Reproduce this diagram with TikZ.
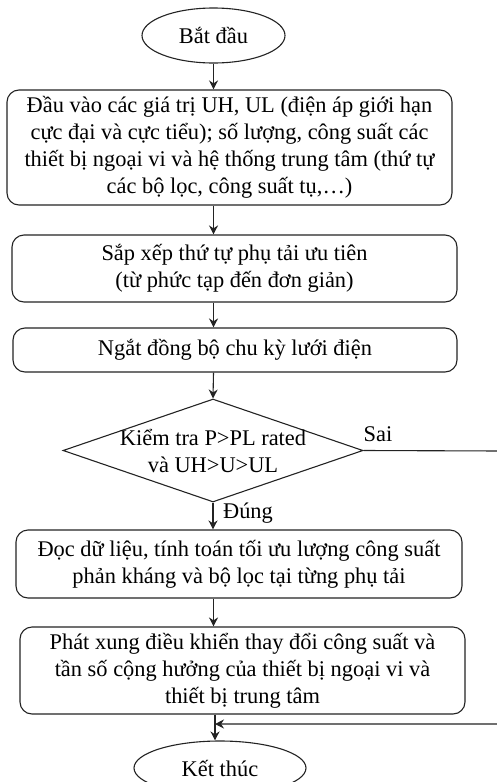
\documentclass[tikz,border=0pt]{standalone}
\usepackage{fontspec}
\setmainfont{Liberation Serif}
\usepackage{tikz}
\usetikzlibrary{shapes, arrows.meta, positioning}
\definecolor{flowline}{RGB}{35, 35, 35}

\begin{document}
\begin{tikzpicture}[x=1pt, y=-1pt,
  font=\fontsize{22.4}{27}\selectfont,
  procbox/.style={draw=flowline, line width=1.1pt, rounded corners=12pt, align=center, inner sep=0pt},
  terminal/.style={draw=flowline, line width=1.1pt, ellipse, inner sep=0pt},
  decision/.style={draw=flowline, line width=1.1pt, diamond, aspect=2.91, align=center, inner xsep=-16pt, inner ysep=0pt, minimum width=300pt, minimum height=103pt},
  flow/.style={draw=flowline, line width=1.1pt, -{Stealth[length=9pt, width=9pt]}}]
  \useasboundingbox (0, 0) rectangle (497, 782);

  \node[terminal, minimum width=143pt, minimum height=55pt] (start) at (213.5, 35.5) {Bắt đầu};

  \node[procbox, minimum width=445pt, minimum height=115pt] (input) at (229.5, 147.5) {
    Đầu vào các giá trị UH, UL (điện áp giới hạn\\
    cực đại và cực tiểu); số lượng, công suất các\\
    thiết bị ngoại vi và hệ thống trung tâm (thứ tự\\
    các bộ lọc, công suất tụ,…)
  };

  \node[procbox, minimum width=445pt, minimum height=67pt] (priority) at (234.5, 268.5) {
    Sắp xếp thứ tự phụ tải ưu tiên\\
    (từ phức tạp đến đơn giản)
  };

  \node[procbox, minimum width=444pt, minimum height=44pt] (sync) at (235, 350) {Ngắt đồng bộ chu kỳ lưới điện};

  \node[decision] (check) at (213, 450.5) {
    Kiểm tra P>PL rated\\
    và UH>U>UL
  };

  \node[procbox, minimum width=446pt, minimum height=68pt] (optimize) at (239, 564) {
    Đọc dữ liệu, tính toán tối ưu lượng công suất\\
    phản kháng và bộ lọc tại từng phụ tải
  };

  \node[procbox, minimum width=445pt, minimum height=87pt] (pulse) at (242.5, 670.5) {
    Phát xung điều khiển thay đổi công suất và\\
    tần số cộng hưởng của thiết bị ngoại vi và\\
    thiết bị trung tâm
  };

  \node[terminal, minimum width=172pt, minimum height=54pt] (finish) at (220, 768) {Kết thúc};

  \node (sai) at (378, 434) {Sai};
  \node (dung) at (248, 513) {Đúng};

  \coordinate (sairight) at (502, 451);
  \coordinate (join) at (215, 724);

  \draw[flow] (start.south -| start) -- (start |- input.north);
  \draw[flow] (input.south -| start) -- (start |- priority.north);
  \draw[flow] (priority.south -| start) -- (start |- sync.north);
  \draw[flow] (sync.south -| start) -- (check.north);
  \draw[flow] (check.south) -- (check |- optimize.north);
  \draw[flow] (optimize.south -| start) -- (start |- pulse.north);
  \draw[flow] (pulse.south -| join) -- (join |- finish.north);
  \draw[flow] (check.east) -- (sairight) |- (join);
\end{tikzpicture}
\end{document}
